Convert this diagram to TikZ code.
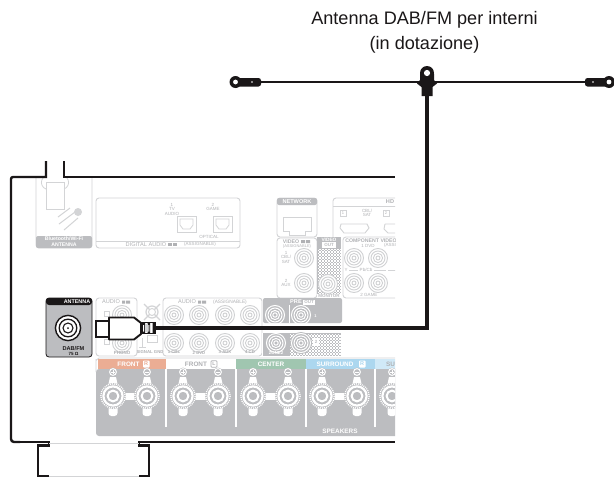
\documentclass[tikz,border=0pt]{standalone}
\usepackage{fontspec}
\setmainfont{Liberation Sans}
\definecolor{pan}{HTML}{BCBDC0}
\definecolor{lin}{HTML}{D3D4D6}
\definecolor{ring}{HTML}{D0D1D3}
\definecolor{txt}{HTML}{B0B1B4}
\definecolor{frontc}{HTML}{EBAD94}
\definecolor{centerc}{HTML}{A0C6B0}
\definecolor{surc}{HTML}{ACD7EF}
\definecolor{surb}{HTML}{D0E9F7}
\definecolor{ink}{HTML}{1A1718}
\newcommand{\fs}[1]{\fontsize{#1}{#1}\selectfont}
\newcommand{\fb}[1]{\fontsize{#1}{#1}\selectfont\bfseries}
% light RCA jack
\newcommand{\rcajack}[2]{%
  \draw[ring,line width=.9pt,fill=white] (#1,#2) circle (9.5);
  \draw[ring,line width=.9pt] (#1,#2) circle (7) (#1,#2) circle (4.6) (#1,#2) circle (2);
}
\newcommand{\rcawhite}[2]{%
  \draw[white,line width=1pt] (#1,#2) circle (9.5) (#1,#2) circle (7) (#1,#2) circle (4.6) (#1,#2) circle (2.2);
}
% speaker terminal
\newcommand{\spk}[3]{%
  \fill[white] (#1-3,#2-19) -- (#1+3,#2-19) -- (#1+5,#2-10) -- (#1-5,#2-10) -- cycle;
  \fill[white,rounded corners=3pt] (#1-4.5,#2+8) rectangle (#1+4.5,#2+20);
  \fill[pan] (#1,#2-24) circle (4.4);
  \draw[white,line width=1pt] (#1,#2-24) circle (3.4);
  \ifnum#3=1 \draw[white,line width=1pt] (#1-2.2,#2-24) -- (#1+2.2,#2-24) (#1,#2-26.2) -- (#1,#2-21.8);
  \else \draw[white,line width=1pt] (#1-2.2,#2-24) -- (#1+2.2,#2-24); \fi
  \fill[pan] (#1,#2) circle (13);
  \draw[white,line width=1.3pt,dash pattern=on 1pt off 1pt] (#1,#2) circle (12.2);
  \draw[white,line width=2.2pt] (#1,#2) circle (9.6);
  \draw[white,line width=2pt] (#1,#2) circle (5.4);
}
\newcommand{\checker}[4]{%
  \fill[pan] (#1,#2) rectangle (#3,#4);
  \begin{scope}
  \clip (#1,#2) rectangle (#3,#4);
  \pgfmathsetmacro{\xa}{#1+1.5}\pgfmathsetmacro{\xb}{#1+3}\pgfmathsetmacro{\xc}{#3}
  \pgfmathsetmacro{\ya}{#2+1.5}\pgfmathsetmacro{\yb}{#2+3}\pgfmathsetmacro{\yc}{#4}
  \foreach \i in {\xa,\xb,...,\xc}{\foreach \j in {\ya,\yb,...,\yc}{
    \pgfmathparse{int(mod(round((\i-#1)/1.5)+round((\j-#2)/1.5),2))}
    \ifnum\pgfmathresult=0 \fill[white] (\i-.75,\j-.75) rectangle (\i+.75,\j+.75);\fi}}
  \end{scope}}
\tikzset{
  panel/.style={draw=lin,line width=.9pt,rounded corners=3pt},
  wt/.style={text=white,inner sep=0pt,font=\fb{5}},
  gt/.style={text=txt,inner sep=0pt,font=\fs{4.5},align=center},
  body/.style={draw=ink,line width=2.4pt},
  cable/.style={draw=ink,line width=4.4pt},
  thinw/.style={draw=ink,line width=2pt},
  label/.style={text=ink,inner sep=0pt,align=center,font=\fontsize{18.1}{25.5}\selectfont},
}
\begin{document}
\begin{tikzpicture}[x=1pt,y=-1pt]
\useasboundingbox (0,0) rectangle (614,477);
\fill[white] (0,0) rectangle (614,477);

\begin{scope}
\clip (0,150) rectangle (395,477);
% bluetooth antenna panel
\draw[panel] (36,177) -- (36,248) -- (92,248) -- (92,177);
\fill[pan,rounded corners=2pt] (36,236) -- (36,248) -- (92,248) -- (92,236) -- cycle;
\draw[lin,line width=.9pt] (46,182) rectangle (64,209);
\draw[lin,line width=.8pt] (46,189) arc (110:250:7) (64,189) arc (70:-70:7);
\fill[lin] (78,212) circle (4);
\draw[lin,line width=1pt] (59,224) -- (75,212) (58,217) -- (70,208) (64,230) -- (78,218);
\node[wt,font=\fb{5.2}] (btt) at (64,238.8) {Bluetooth/Wi-Fi};
\node[wt,font=\fb{5.2}] (bta) at (64,244.6) {ANTENNA};
% digital audio
\draw[panel] (96,198) rectangle (240,248);
\draw[lin,line width=.9pt] (96,241) -- (240,241);
\node[gt] (d1) at (172,209) {1\\TV\\AUDIO};
\node[gt] (d2) at (213,207) {2\\GAME};
\node[gt] (opt) at (209,237) {OPTICAL};
\node[gt,font=\fs{5.6}] (dig) at (146,244.5) {DIGITAL AUDIO};
\fill[txt] (168,243) rectangle (172,246);
\fill[txt] (173,243) rectangle (177,246);
\node[gt] (ass) at (200,244.5) {(ASSIGNABLE)};
\foreach \x in {177,213}{
  \draw[lin,line width=.9pt] (\x,216) rectangle +(19,16);
  \draw[lin,line width=.8pt] (\x+3,219) -- (\x+16,219) -- (\x+16,225) -- (\x+13,229) -- (\x+6,229) -- (\x+3,225) -- cycle;
}
% network
\draw[panel] (277,237) -- (277,198) -- (317,198) -- (317,237) -- cycle;
\fill[pan,rounded corners=2pt] (277,205) -- (277,198) -- (317,198) -- (317,205) -- cycle;
\node[wt,font=\fb{5.6}] (net) at (297,201.8) {NETWORK};
\draw[lin,line width=.9pt] (283,217) -- (311,217) -- (311,231) -- (305,231) -- (305,235) -- (289,235) -- (289,231) -- (283,231) -- cycle;
% HDMI
\draw[panel] (333,240) -- (333,198) -- (400,198);
\draw[lin,line width=.9pt] (333,206) -- (400,206);
\node[gt,font=\fb{5.6}] (hd) at (390,202) {HD};
\draw[lin,line width=.9pt] (340,210) rectangle +(6,6) (383,210) rectangle +(6,6);
\node[gt,font=\fs{4}] at (343,213) {1};
\node[gt,font=\fs{4}] at (386,213) {2};
\node[gt] (cbl) at (367,213) {CBL/\\SAT};
\draw[lin,line width=.9pt] (341,224) -- (367,224) -- (369,228) -- (365,233) -- (344,233) -- (340,228) -- cycle;
\draw[lin,line width=.9pt] (385,224) -- (400,224) (385,224) -- (384,229) -- (388,233) -- (400,233);
% video
\draw[panel] (277,238) rectangle (317,298);
\node[gt,font=\fb{5.2}] (vid) at (291,241.5) {VIDEO};
\fill[txt] (301,240) rectangle (305,243) (306,240) rectangle (310,243);
\node[gt,font=\fs{4}] at (297,246) {(ASSIGNABLE)};
\node[gt] at (286,257) {1\\CBL/\\SAT};
\node[gt] at (286,283) {2\\AUX};
\rcajack{304}{258}\rcajack{304}{283}
% monitor out
\checker{317}{237}{341}{298}
\fill[pan] (317,237) rectangle (341,249);
\node[wt,font=\fb{4.8}] (vo) at (329,239.5) {VIDEO};
\fill[white] (322,242) rectangle (336,248);
\node[gt,text=pan,font=\fb{4.5}] at (329,245) {OUT};
\fill[white] (317,293.5) rectangle (341,298);
\node[gt,font=\fb{4.5},text=pan] (mon) at (329,295.8) {MONITOR};
\rcajack{328}{284}
% component
\draw[panel] (343,237) rectangle (405,298);
\node[gt,font=\fb{5.2}] (comp) at (371,240.5) {COMPONENT VIDEO};
\node[gt,font=\fs{4.5}] at (368,245.5) {1 DVD};
\node[gt,font=\fs{4.5}] at (390,245.5) {(ASSI};
\node[gt,font=\fs{4.5}] (pb) at (366,270) {Pb/Cb};
\node[gt,font=\fs{4.5}] at (346,270) {Y};
\draw[lin,line width=.6pt] (349,270) -- (358,270) (374,270) -- (386,270) (388,270) -- (400,270);
\node[gt,font=\fs{4.5}] at (369,295) {2 GAME};
\rcajack{354}{258}\rcajack{378}{258}\rcajack{354}{283}\rcajack{378}{283}
% audio blocks
\draw[panel] (96,298) rectangle (137,356);
\node[gt,font=\fs{5.6}] (au1) at (111,302) {AUDIO};
\fill[txt] (122,300.5) rectangle (125,303.5) (126,300.5) rectangle (130,303.5);
\rcajack{122}{315}\rcajack{122}{343}
\draw[lin,line width=.8pt] (104,311) rectangle +(5,5) (104,339) rectangle +(5,5);
\node[gt,font=\fb{4.5}] at (122,352.5) {PHONO};
\draw[panel] (163,298) -- (163,356) -- (262,356) -- (262,298) -- cycle;
\node[gt,font=\fs{5.6}] (au2) at (187,302) {AUDIO};
\fill[txt] (198,300.5) rectangle (201,303.5) (202,300.5) rectangle (206,303.5);
\node[gt,font=\fs{4.8}] (as2) at (230,302) {(ASSIGNABLE)};
\foreach \x/\t in {174/1 CBL/SAT,199/2 DVD,225/3 AUX,250/4 CD}{
  \rcajack{\x}{315}\rcajack{\x}{343}
  \node[gt,font=\fb{4.3}] at (\x,352.5) {\t};
}
% ground post
\draw[lin,line width=1.2pt] (144,304) -- (160,320) (160,304) -- (144,320);
\draw[lin,line width=1.2pt] (152,312) circle (6);
\fill[white] (152,312) circle (3.5);
\draw[lin,line width=.9pt] (152,312) circle (3.5);
\draw[lin,line width=.8pt] (147,335) rectangle (157,342);
\draw[lin,line width=.7pt] (142,338) -- (142,347) (139,347) -- (146,347);
\node[gt,font=\fb{4.3}] at (150,352.5) {SIGNAL GND};
% pre out
\fill[pan,rounded corners=2pt] (263,323) -- (263,298) -- (342,298) -- (342,323) -- cycle;
\fill[white] (288.5,305) rectangle (289.5,323);
\node[wt,font=\fb{5.6}] (pre) at (296,302) {PRE};
\fill[white] (303,299.5) rectangle (315,304.5);
\node[gt,text=pan,font=\fb{4.5}] (pout) at (309,302) {OUT};
\rcawhite{275}{315}\rcawhite{301}{315}
\node[wt,font=\fb{4}] at (315.5,316) {1};
\fill[pan] (263,333) rectangle (289,356);
\checker{289}{333}{341}{356}
\rcawhite{276}{343}
\fill[pan] (301,343) circle (11);
\rcawhite{301}{343}
\fill[white] (313,338) rectangle (319,346);
\node[gt,text=pan,font=\fb{4.5}] at (316,342) {2};
\node[wt,font=\fb{4.3}] at (276,352.7) {ZONE2};
\fill[white] (262,333) rectangle (263,356);
% speakers
\fill[pan,rounded corners=3pt] (96,369) rectangle (400,436);
\fill[white] (96,358) rectangle (400,369);
\draw[lin,line width=.8pt] (96,372) -- (96,360) to[out=-90,in=180] (99,358) -- (400,358);
\fill[frontc] (98,359) rectangle (166,369);
\fill[centerc] (236,359) rectangle (306,369);
\fill[surc] (306,359) rectangle (375,369);
\fill[surb] (375,359) rectangle (400,369);
\foreach \x in {166,236,306,375}{\fill[white] (\x-.9,369) rectangle (\x+.9,427);}
\node[wt,font=\fb{6.4}] (fr) at (128.5,364) {FRONT};
\fill[white,rounded corners=.8pt] (143,360.5) rectangle (149.5,367.5);
\node[inner sep=0pt,text=frontc,font=\fb{5.5}] (frr) at (146.2,364) {R};
\node[gt,font=\fb{6.4},text=txt] (fl) at (196,364) {FRONT};
\draw[txt,line width=.7pt,rounded corners=.8pt] (211,360.8) rectangle (217,367.2);
\node[inner sep=0pt,text=txt,font=\fb{5}] (fll) at (214,364) {L};
\node[wt,font=\fb{6.4}] (ce) at (271,364) {CENTER};
\node[wt,font=\fb{6.4}] (su) at (335,364) {SURROUND};
\fill[white,rounded corners=.8pt] (359,360.5) rectangle (365.5,367.5);
\node[inner sep=0pt,text=surc,font=\fb{5.5}] (sur) at (362.2,364) {R};
\node[wt,font=\fb{6.4},text=txt,anchor=west] (su2) at (386,364) {SU};
\foreach \a/\b in {113/147,183/218,253/288,322/357,392/427}{
  \fill[white] (\a+8,392.5) rectangle (\b-8,399.5);
  \spk{\a}{396}{1}\spk{\b}{396}{0}
}
\node[wt,font=\fb{6.4}] (sp) at (340,431) {SPEAKERS};
% body outline
\draw[body] (64,161) -- (64,177) -- (395,177);
\draw[body] (46,161) -- (46,177) -- (13,177) to[out=180,in=90] (11,179) -- (11,439) to[out=-90,in=180] (14,442) -- (20,442);
\draw[body] (14,442) -- (49,442) -- (49,445.5) -- (38,445.5) -- (38,475.8) -- (49,475.8);
\draw[body] (139,475.8) -- (149,475.8) -- (149,445.5) -- (139,445.5) -- (139,442) -- (395,442);
\draw[lin,line width=.9pt] (49,443) -- (139,443) (49,476) -- (139,476);
\end{scope}

% antenna socket panel
\fill[pan,rounded corners=3pt,draw=ink,line width=.8pt] (46,298) rectangle (92,357);
\fill[ink,rounded corners=3pt] (46,305) -- (46,298) -- (92,298) -- (92,305) -- cycle;
\node[text=white,inner sep=0pt,font=\fb{5.4}] (ant) at (77,301.6) {ANTENNA};
\fill[white,draw=ink,line width=1.4pt] (68,328) circle (12.6);
\draw[ink,line width=1.3pt] (68,328) circle (8.8);
\draw[ink,line width=1.1pt] (68,328) circle (5);
\fill[ink] (68,328) circle (1);
\node[text=ink,inner sep=0pt,font=\fb{5.6}] (dab) at (73.5,348.5) {DAB/FM};
\node[text=ink,inner sep=0pt,font=\fb{4.5}] (oh) at (73.5,353.8) {75 Ω};

% antenna
\coordinate (hubtop) at (427,73);
\coordinate (lefttab) at (236,82);
\coordinate (righttab) at (609,82);
\coordinate (cablein) at (155,328);
\coordinate (bend) at (427,328);
\coordinate (hubbot) at (427,94);
\draw[draw=ink,line width=2.6pt] (lefttab) -- (righttab);
\fill[ink,rounded corners=2.5pt] (236,78) rectangle (261,86.5);
\fill[ink] (235.5,82) circle (6);
\fill[white] (235.5,82) circle (2.4);
\fill[white] (252,82) circle (.8);
\fill[ink,rounded corners=2.5pt] (585,78) rectangle (609,86.5);
\fill[ink] (609,82) circle (6);
\fill[white] (609,82) circle (2.4);
\fill[white] (593,82) circle (.8);
\fill[ink] (427,73) circle (7);
\fill[ink] (420,74) -- (434,74) -- (434,80) -- (437,83.5) -- (432.5,87) -- (432.5,96) -- (421.5,96) -- (421.5,87) -- (417,83.5) -- (420,80) -- cycle;
\fill[white] (427,73) circle (3.1);
\draw[cable,line join=miter] (hubbot) -- (bend) -- (cablein);

% plug
\draw[thinw,fill=white] (96,320.5) rectangle (110,337);
\fill[white,draw=ink,line width=1.9pt,line join=round] (109,317.5) -- (134,317.5) -- (141,323) -- (141,334) -- (134,339.5) -- (109,339.5) -- cycle;
\fill[white,draw=ink,line width=1.3pt] (141,322.5) rectangle (155,333.5);
\fill[ink] (142,322.5) rectangle (145,333.5) (147.5,322.5) rectangle (150,333.5) (152.5,322.5) rectangle (155,333.5);
\fill[white] (143,325) rectangle (144.2,331.5) (148.3,325) rectangle (149.3,331.5);
\fill[lin] (145,324) rectangle (147.5,332);

% caption
\node[label] (cap) at (424.5,32.5) {Antenna DAB/FM per interni\\(in dotazione)};
\end{tikzpicture}
\end{document}
